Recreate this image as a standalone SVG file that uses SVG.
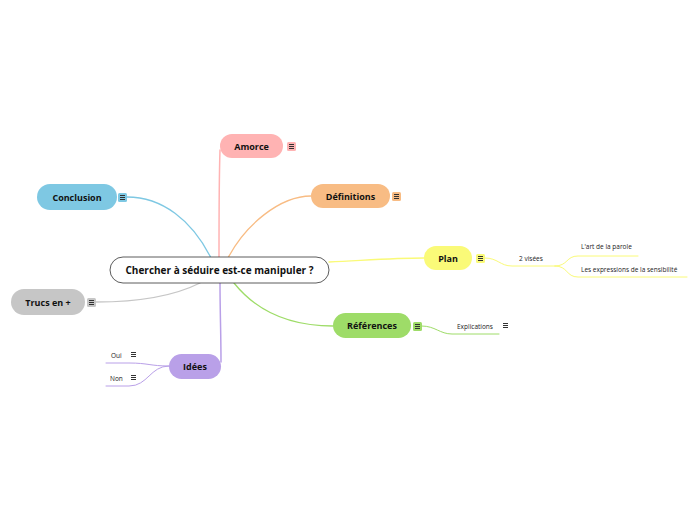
<svg xmlns="http://www.w3.org/2000/svg" width="696" height="520" viewBox="0 0 696 520">
<style>
.t{font-family:"Open Sans","Noto Sans",sans-serif;font-weight:bold;font-size:9px;fill:#111;text-anchor:middle;dominant-baseline:central}
.s{font-family:"Open Sans","Noto Sans",sans-serif;font-size:6.5px;fill:#222;dominant-baseline:central}
.c{fill:none;stroke-linecap:round}
</style>
<defs>
<g id="lines" stroke="#333" stroke-width="1"><line x1="-2.5" y1="-1.5" x2="2.5" y2="-1.5"/><line x1="-2.5" y1="0.5" x2="2.5" y2="0.5"/><line x1="-2.5" y1="2.5" x2="2.5" y2="2.5"/></g>
</defs>
<rect width="696" height="520" fill="#fff"/>
<g id="connectors">
<path class="c" d="M219,258 C219,220 219,180 220,150" stroke="#ffb3b3" stroke-width="1.5"/>
<path class="c" d="M211,258 C192,220 162,197 127,197" stroke="#7ec8e3" stroke-width="1.3"/>
<path class="c" d="M228,258 C245,225 280,196 311,196" stroke="#f8bc84" stroke-width="1.3"/>
<path class="c" d="M329,262 C370,260 395,258 424,258" stroke="#fafa78" stroke-width="1.3"/>
<path class="c" d="M234,283 C262,318 300,326 333,326" stroke="#9edc68" stroke-width="1.3"/>
<path class="c" d="M220,283 C220,310 221,335 221,362" stroke="#b9a0e8" stroke-width="1.5"/>
<path class="c" d="M200,283 C170,298 130,302 96,302" stroke="#c6c6c6" stroke-width="1.3"/>
<path class="c" d="M485,258 C498,258 500,266 512,266 L555,266" stroke="#fafa78" stroke-width="1"/>
<path class="c" d="M555,266 C568,266 566,256 578,256 L638,256" stroke="#fafa78" stroke-width="1"/>
<path class="c" d="M555,266 C568,266 566,277 578,277 L687,277" stroke="#fafa78" stroke-width="1"/>
<path class="c" d="M422,326 C435,326 440,334 452,334 L499,334" stroke="#9edc68" stroke-width="1"/>
<path class="c" d="M169,366 C150,366 148,363 129,363 L106,363" stroke="#b9a0e8" stroke-width="1"/>
<path class="c" d="M169,366 C150,366 148,386 129,386 L106,386" stroke="#b9a0e8" stroke-width="1"/>
</g>
<g id="central">
<rect x="110" y="257" width="219" height="26" rx="13" fill="#fff" stroke="#333" stroke-width="0.8"/>
<text class="t" x="219.5" y="270" style="font-size:10px">Chercher à séduire est-ce manipuler ?</text>
</g>
<g id="amorce">
<rect x="220" y="134" width="63" height="24" rx="12" fill="#ffb3b3"/>
<text class="t" x="251.5" y="146">Amorce</text>
<rect x="287" y="142" width="9" height="9" rx="1.5" fill="#ffb3b3"/>
<use href="#lines" x="291.5" y="146"/>
</g>
<g id="definitions">
<rect x="311" y="184" width="79" height="24" rx="12" fill="#f8bc84"/>
<text class="t" x="350.5" y="196">Définitions</text>
<rect x="392" y="192" width="9" height="9" rx="1.5" fill="#f8bc84"/>
<use href="#lines" x="396.5" y="196"/>
</g>
<g id="conclusion">
<rect x="37" y="184" width="80" height="26" rx="13" fill="#7ec8e3"/>
<text class="t" x="77" y="197">Conclusion</text>
<rect x="118" y="193" width="9" height="9" rx="1.5" fill="#7ec8e3"/>
<use href="#lines" x="122.5" y="197"/>
</g>
<g id="trucs">
<rect x="11" y="289" width="74" height="26" rx="13" fill="#c6c6c6"/>
<text class="t" x="48" y="302">Trucs en +</text>
<rect x="87" y="298" width="9" height="9" rx="1.5" fill="#c6c6c6"/>
<use href="#lines" x="91.5" y="302"/>
</g>
<g id="idees">
<rect x="169" y="354" width="52" height="25" rx="12.5" fill="#b9a0e8"/>
<text class="t" x="195" y="366.5">Idées</text>
</g>
<g id="oui">
<text class="s" x="111" y="355">Oui</text>
<use href="#lines" x="133.5" y="354"/>
</g>
<g id="non">
<text class="s" x="110" y="378">Non</text>
<use href="#lines" x="133.5" y="377"/>
</g>
<g id="plan">
<rect x="424" y="246" width="48" height="24" rx="12" fill="#fafa78"/>
<text class="t" x="448" y="258">Plan</text>
<rect x="476" y="254" width="9" height="9" rx="1.5" fill="#fafa78"/>
<use href="#lines" x="480.5" y="258"/>
</g>
<g id="visees">
<text class="s" x="519" y="258">2 visées</text>
</g>
<g id="art">
<text class="s" x="581" y="246">L'art de la parole</text>
</g>
<g id="expressions">
<text class="s" x="581" y="269">Les expressions de la sensibilité</text>
</g>
<g id="references">
<rect x="333" y="313" width="78" height="25" rx="12.5" fill="#9edc68"/>
<text class="t" x="372" y="325.5">Références</text>
<rect x="413" y="322" width="9" height="9" rx="1.5" fill="#9edc68"/>
<use href="#lines" x="417.5" y="326"/>
</g>
<g id="explications">
<text class="s" x="457" y="326">Explications</text>
<use href="#lines" x="505.5" y="325"/>
</g>
</svg>
